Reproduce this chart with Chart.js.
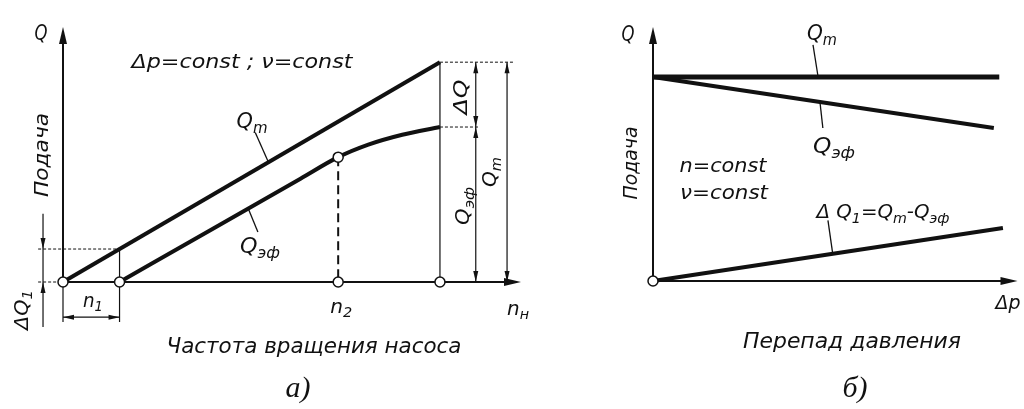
<!DOCTYPE html>
<html>
<head>
<meta charset="utf-8">
<script src="https://cdn.jsdelivr.net/npm/chart.js@4/dist/chart.umd.min.js"></script>
<style>
  html, body { margin: 0; padding: 0; background: #fff; }
  #wrap { position: relative; width: 1024px; height: 409px; }
  canvas { position: absolute; left: 0; top: 0; }
</style>
</head>
<body>
<div id="wrap">
  <canvas id="speedChart" width="1024" height="409"></canvas>
  <canvas id="dropChart" width="1024" height="409"></canvas>
</div>
<script>
// a) supply vs pump speed, dp = const
const speedQmX = [0, 10];
const speedQmY = [0, 10];
const speedQefX = [1.5, 4, 6.3, 7.3, 8.1, 9, 10];
const speedQefY = [0, 2.45, 4.7, 5.68, 6.25, 6.7, 7.05];
const speedTicks = [1.5, 7.3, 10];          // n1, n2, nн
const speedTickSubs = ['1', '2', 'н'];

// b) supply vs pressure drop, n = const
const dropQmX = [0, 9.5];
const dropQmY = [10, 10];
const dropQefX = [0, 9.35];
const dropQefY = [10, 7.5];
const dropDq1X = [0, 9.6];
const dropDq1Y = [0, 2.6];

const INK = '#111';
const SANS = '"DejaVu Sans", "Liberation Sans", sans-serif';
const SERIF = '"Liberation Serif", "DejaVu Serif", serif';

const pts = (xs, ys) => xs.map((x, i) => ({ x: x, y: ys[i] }));

function line(ctx, x1, y1, x2, y2, w, dash) {
  ctx.save();
  ctx.strokeStyle = INK;
  ctx.lineWidth = w;
  ctx.setLineDash(dash || []);
  ctx.beginPath();
  ctx.moveTo(x1, y1);
  ctx.lineTo(x2, y2);
  ctx.stroke();
  ctx.restore();
}

function head(ctx, x, y, ang, len, half) {
  ctx.save();
  ctx.fillStyle = INK;
  ctx.translate(x, y);
  ctx.rotate(ang);
  ctx.beginPath();
  ctx.moveTo(0, 0);
  ctx.lineTo(-len, -half);
  ctx.lineTo(-len, half);
  ctx.closePath();
  ctx.fill();
  ctx.restore();
}

// text parts: [text, isSub]; squeezed / stretched to the given width
function rich(ctx, parts, cx, cy, size, width, rot) {
  ctx.save();
  ctx.fillStyle = INK;
  ctx.translate(cx, cy);
  if (rot) ctx.rotate(rot);
  ctx.textAlign = 'left';
  ctx.textBaseline = 'alphabetic';
  const fonts = parts.map(p => 'italic ' + (p[1] ? size * 0.72 : size) + 'px ' + SANS);
  let total = 0;
  const ws = parts.map((p, i) => {
    ctx.font = fonts[i];
    const w = ctx.measureText(p[0]).width;
    total += w;
    return w;
  });
  if (width) ctx.scale(width / total, 1);
  let x = -total / 2;
  parts.forEach((p, i) => {
    ctx.font = fonts[i];
    ctx.fillText(p[0], x, size * 0.36 + (p[1] ? size * 0.24 : 0));
    x += ws[i];
  });
  ctx.restore();
}

function caption(ctx, s, cx, cy) {
  ctx.save();
  ctx.fillStyle = INK;
  ctx.font = 'italic 30px ' + SERIF;
  ctx.textAlign = 'center';
  ctx.textBaseline = 'middle';
  ctx.fillText(s, cx, cy);
  ctx.restore();
}

function axes(chart) {
  const { ctx, scales: { x, y } } = chart;
  const x0 = x.getPixelForValue(0), y0 = y.getPixelForValue(0);
  const xe = x.getPixelForValue(x.max), ye = y.getPixelForValue(y.max);
  line(ctx, x0, y0, x0, ye + 8, 2);
  head(ctx, x0, ye, -Math.PI / 2, 17, 4);
  line(ctx, x0, y0, xe - 8, y0, 2);
  head(ctx, xe, y0, 0, 17, 4);
}

const speedDecor = {
  id: 'speedDecor',
  beforeDatasetsDraw(chart) {
    const { ctx, scales: { x, y } } = chart;
    const X = v => x.getPixelForValue(v), Y = v => y.getPixelForValue(v);
    axes(chart);
    const nH = speedTicks[2], n1 = speedTicks[0], n2 = speedTicks[1];
    const qTop = speedQmY[1];
    const qEnd = speedQefY[speedQefY.length - 1];
    const qN2 = speedQefY[speedQefX.indexOf(n2)];
    const qN1 = n1 * speedQmY[1] / speedQmX[1];

    // right side: dimension lines ΔQ, Qэф, Qm
    line(ctx, X(nH), Y(0), X(nH), Y(qTop), 1.2);
    line(ctx, X(nH), Y(qTop), X(11.95), Y(qTop), 1, [3, 2]);
    line(ctx, X(nH), Y(qEnd), X(11.05), Y(qEnd), 1, [3, 2]);
    const d1 = X(10.95), d2 = X(11.78);
    line(ctx, d1, Y(qTop), d1, Y(0), 1.2);
    head(ctx, d1, Y(qTop), -Math.PI / 2, 11, 2.5);
    head(ctx, d1, Y(qEnd), Math.PI / 2, 11, 2.5);
    head(ctx, d1, Y(qEnd), -Math.PI / 2, 11, 2.5);
    head(ctx, d1, Y(0), Math.PI / 2, 11, 2.5);
    line(ctx, d2, Y(qTop), d2, Y(0), 1.2);
    head(ctx, d2, Y(qTop), -Math.PI / 2, 11, 2.5);
    head(ctx, d2, Y(0), Math.PI / 2, 11, 2.5);

    // left side: ΔQ1 and n1
    const xl = X(-0.66);
    line(ctx, xl, Y(qN1), X(n1), Y(qN1), 1, [3, 2]);
    line(ctx, xl, Y(0), X(0), Y(0), 1, [3, 2]);
    const dq = X(-0.53);
    line(ctx, dq, Y(3.1), dq, Y(-2.05), 1.2);
    head(ctx, dq, Y(qN1), Math.PI / 2, 11, 2.5);
    head(ctx, dq, Y(0), -Math.PI / 2, 11, 2.5);
    line(ctx, X(0), Y(0), X(0), Y(-1.82), 1.2);
    line(ctx, X(n1), Y(qN1), X(n1), Y(-1.82), 1.2);
    line(ctx, X(0), Y(-1.6), X(n1), Y(-1.6), 1.2);
    head(ctx, X(0), Y(-1.6), Math.PI, 11, 2.5);
    head(ctx, X(n1), Y(-1.6), 0, 11, 2.5);

    // n2 drop line
    line(ctx, X(n2), Y(qN2), X(n2), Y(0), 2, [9, 5]);
  },
  afterDatasetsDraw(chart) {
    const { ctx, scales: { x, y } } = chart;
    const X = v => x.getPixelForValue(v), Y = v => y.getPixelForValue(v);
    // leaders
    line(ctx, X(5.1), Y(6.8), X(5.45), Y(5.45), 1.3);
    line(ctx, X(4.9), Y(3.4), X(5.17), Y(2.27), 1.3);

    rich(ctx, [['Q', 0]], 41, 32, 22, 13);
    rich(ctx, [['Δp=const ; ν=const', 0]], 242, 61, 20, 221);
    rich(ctx, [['Q', 0], ['m', 1]], 252, 120, 21, 31);
    rich(ctx, [['Q', 0], ['эф', 1]], 260, 245, 21, 40);
    rich(ctx, [['Подача', 0]], 41, 155, 20, 84, -Math.PI / 2);
    rich(ctx, [['ΔQ', 0], ['1', 1]], 21, 310, 19, 40, -Math.PI / 2);
    rich(ctx, [['ΔQ', 0]], 460, 97, 20, 35, -Math.PI / 2);
    rich(ctx, [['Q', 0], ['эф', 1]], 462, 206, 20, 38, -Math.PI / 2);
    rich(ctx, [['Q', 0], ['m', 1]], 489, 172, 20, 30, -Math.PI / 2);
    rich(ctx, [['n', 0], [speedTickSubs[0], 1]], 93, 300, 19, 20);
    rich(ctx, [['n', 0], [speedTickSubs[1], 1]], X(speedTicks[1]) + 3, 306, 19, 22);
    rich(ctx, [['n', 0], [speedTickSubs[2], 1]], 518, 308, 19, 22);
    rich(ctx, [['Частота вращения насоса', 0]], 314, 345, 22, 295);
    caption(ctx, 'а)', 298, 389);
  }
};

const dropDecor = {
  id: 'dropDecor',
  beforeDatasetsDraw(chart) {
    axes(chart);
  },
  afterDatasetsDraw(chart) {
    const { ctx, scales: { x, y } } = chart;
    const X = v => x.getPixelForValue(v), Y = v => y.getPixelForValue(v);
    line(ctx, X(4.39), Y(11.57), X(4.53), Y(10), 1.3);
    line(ctx, X(4.58), Y(8.78), X(4.66), Y(7.5), 1.3);
    line(ctx, X(4.8), Y(2.97), X(4.93), Y(1.34), 1.3);

    rich(ctx, [['Q', 0]], 628, 33, 22, 13);
    rich(ctx, [['Q', 0], ['m', 1]], 822, 32, 21, 30);
    rich(ctx, [['Q', 0], ['эф', 1]], 834, 145, 21, 42);
    rich(ctx, [['Подача', 0]], 630, 163, 20, 73, -Math.PI / 2);
    rich(ctx, [['n=const', 0]], 723, 165, 20, 87);
    rich(ctx, [['ν=const', 0]], 724, 192, 20, 88);
    rich(ctx, [['Δ Q', 0], ['1', 1], ['=Q', 0], ['m', 1], ['-Q', 0], ['эф', 1]], 883, 211, 20, 133);
    rich(ctx, [['Δp', 0]], 1008, 302, 20, 25);
    rich(ctx, [['Перепад давления', 0]], 852, 340, 22, 218);
    caption(ctx, 'б)', 855, 389);
  }
};

const marker = { pointRadius: 5, pointBackgroundColor: '#fff', pointBorderColor: INK, pointBorderWidth: 1.5, showLine: false, order: 0, clip: false };
const curve = { borderColor: INK, pointRadius: 0, fill: false, order: 1, clip: false };

const baseOptions = (pad, xMax, yMax) => ({
  responsive: false,
  animation: false,
  events: [],
  layout: { padding: pad },
  plugins: { legend: { display: false }, tooltip: { enabled: false } },
  scales: {
    x: { type: 'linear', min: 0, max: xMax, display: false },
    y: { type: 'linear', min: 0, max: yMax, display: false }
  }
});

new Chart(document.getElementById('speedChart'), {
  type: 'line',
  data: {
    datasets: [
      Object.assign({ data: [{ x: 0, y: 0 }].concat(speedTicks.map(v => ({ x: v, y: 0 })),
        [{ x: speedTicks[1], y: speedQefY[speedQefX.indexOf(speedTicks[1])] }]) }, marker),
      Object.assign({ data: pts(speedQmX, speedQmY), borderWidth: 4 }, curve),
      Object.assign({ data: pts(speedQefX, speedQefY), borderWidth: 4, cubicInterpolationMode: 'monotone' }, curve)
    ]
  },
  options: baseOptions({ left: 63, right: 503, top: 27, bottom: 127 }, 12.15, 11.6),
  plugins: [speedDecor]
});

new Chart(document.getElementById('dropChart'), {
  type: 'line',
  data: {
    datasets: [
      Object.assign({ data: [{ x: 0, y: 0 }] }, marker),
      Object.assign({ data: pts(dropQmX, dropQmY), borderWidth: 5 }, curve),
      Object.assign({ data: pts(dropQefX, dropQefY), borderWidth: 4 }, curve),
      Object.assign({ data: pts(dropDq1X, dropDq1Y), borderWidth: 4 }, curve)
    ]
  },
  options: baseOptions({ left: 653, right: 2, top: 27, bottom: 128 }, 10, 12.45),
  plugins: [dropDecor]
});
</script>
</body>
</html>
